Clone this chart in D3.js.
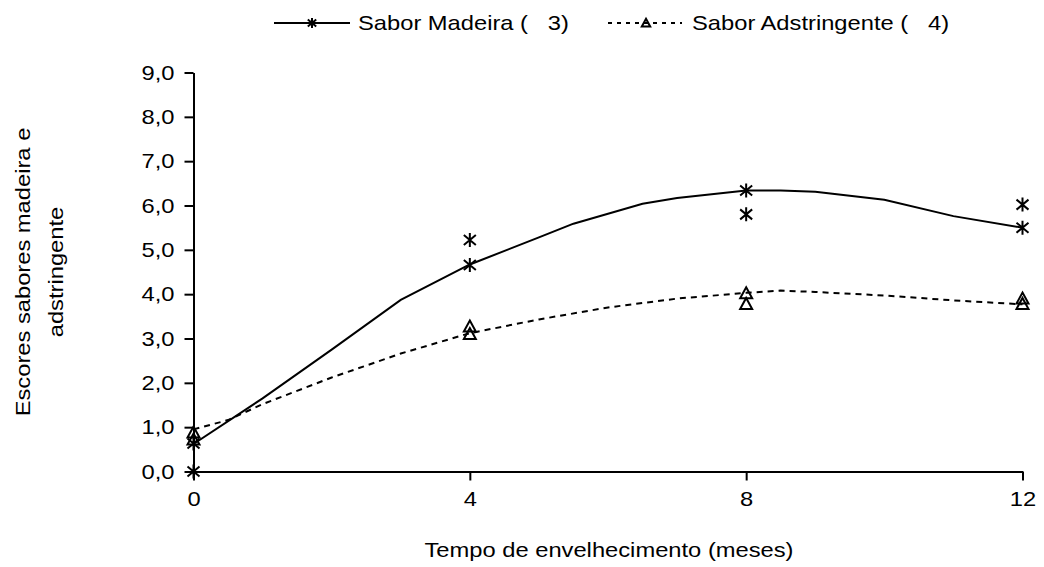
<!DOCTYPE html>
<meta charset="utf-8">
<style>
    body { margin: 0; background: #fff; }
    svg text { font-family: "Liberation Sans", Arial, sans-serif; font-size: 21px; fill: #000; }
    .axis path, .axis line { stroke: #000; stroke-width: 2px; }
</style>
<svg width="1044" height="567"></svg>

<script src="https://d3js.org/d3.v7.min.js"></script>
<script>
    // observed scores at 0, 4, 8 and 12 months (two replicates each)
    var madeiraObs = [[0, 0.0], [0, 0.63], [4, 5.22], [4, 4.66], [8, 6.34], [8, 5.80], [12, 6.02], [12, 5.50]];
    var adstrObs = [[0, 0.88], [0, 0.72], [4, 3.27], [4, 3.10], [8, 4.02], [8, 3.78], [12, 3.90], [12, 3.78]];

    // fitted curves
    var madeiraFit = [[0, 0.62], [1, 1.65], [2, 2.75], [3, 3.87], [4, 4.67], [5, 5.28], [5.5, 5.59], [6.5, 6.04],
        [7, 6.17], [8, 6.34], [8.5, 6.34], [9, 6.31], [10, 6.13], [11, 5.76], [12, 5.50]];
    var adstrFit = [[0, 0.95], [0.5, 1.16], [1, 1.52], [2, 2.12], [3, 2.66], [4, 3.12], [5, 3.43], [6, 3.70],
        [7, 3.90], [8, 4.03], [8.5, 4.08], [9, 4.05], [10, 3.97], [11, 3.86], [12, 3.77]];

    var xTicks = [0, 4, 8, 12];
    var yTicks = [0, 1, 2, 3, 4, 5, 6, 7, 8, 9];
    var legendLabels = ["Sabor Madeira (\u00a0\u00a0 3)", "Sabor Adstringente (\u00a0\u00a0 4)"];

    var svg = d3.select("svg");
    var x = d3.scaleLinear().domain([0, 12]).range([193.5, 1022.5]);
    var y = d3.scaleLinear().domain([0, 9]).range([471.5, 72.5]);
    var comma = d3.formatLocale({decimal: ",", thousands: ".", grouping: [3], currency: ["", ""]}).format(".1f");

    svg.append("g").attr("class", "axis")
        .attr("transform", "translate(0," + y(0) + ")")
        .call(d3.axisBottom(x).tickValues(xTicks).tickSize(9).tickSizeOuter(0).tickPadding(11))
        .call(function(g) { g.selectAll("text").attr("font-size", null).attr("font-family", null); });

    svg.append("g").attr("class", "axis")
        .attr("transform", "translate(" + x(0) + ",0)")
        .call(d3.axisLeft(y).tickValues(yTicks).tickFormat(comma).tickSize(9).tickSizeOuter(0).tickPadding(10))
        .call(function(g) { g.selectAll("text").attr("font-size", null).attr("font-family", null); });

    svg.selectAll(".axis .domain").attr("stroke-width", 2);

    var line = d3.line().x(function(d) { return x(d[0]); }).y(function(d) { return y(d[1]); });

    svg.append("path").datum(madeiraFit)
        .attr("d", line).attr("fill", "none").attr("stroke", "#000").attr("stroke-width", 2);
    svg.append("path").datum(adstrFit)
        .attr("d", line).attr("fill", "none").attr("stroke", "#000").attr("stroke-width", 2)
        .attr("stroke-dasharray", "6,5");

    function star(g, r) {
        r = r || 1;
        g.append("path").attr("d", "M0,-7V7M-6,-5L6,5M-6,5L6,-5")
            .attr("transform", "scale(" + r + ")")
            .attr("stroke", "#000").attr("stroke-width", 2 / r).attr("fill", "none");
    }
    function tri(g, r) {
        r = r || 1;
        g.append("path").attr("d", "M0,-6L6,5H-6Z")
            .attr("transform", "scale(" + r + ")")
            .attr("stroke", "#000").attr("stroke-width", 2 / r).attr("fill", "none");
    }

    svg.selectAll(".star").data(madeiraObs).enter().append("g")
        .attr("transform", function(d) { return "translate(" + x(d[0]) + "," + y(d[1]) + ")"; })
        .call(star);
    svg.selectAll(".tri").data(adstrObs).enter().append("g")
        .attr("transform", function(d) { return "translate(" + x(d[0]) + "," + y(d[1]) + ")"; })
        .call(tri);

    // legend
    var leg = svg.append("g");
    leg.append("line").attr("x1", 274).attr("x2", 350).attr("y1", 23).attr("y2", 23)
        .attr("stroke", "#000").attr("stroke-width", 2);
    leg.append("g").attr("transform", "translate(312,23)").call(star, 0.7);
    leg.append("text").attr("x", 358).attr("y", 30).text(legendLabels[0]);

    leg.append("line").attr("x1", 608).attr("x2", 682).attr("y1", 23).attr("y2", 23)
        .attr("stroke", "#000").attr("stroke-width", 2).attr("stroke-dasharray", "4,5");
    leg.append("g").attr("transform", "translate(646,23)").call(tri, 0.7);
    leg.append("text").attr("x", 692).attr("y", 30).text(legendLabels[1]);

    // axis titles
    svg.append("text").attr("x", 609).attr("y", 557).attr("text-anchor", "middle")
        .text("Tempo de envelhecimento (meses)");
    var yt = svg.append("text").attr("text-anchor", "middle")
        .attr("transform", "translate(0,272) rotate(-90)");
    yt.append("tspan").attr("x", 0).attr("y", 30).text("Escores sabores madeira e");
    yt.append("tspan").attr("x", 0).attr("y", 63).text("adstringente");

    // the original lettering is a bit wider than it is tall
    var sx = 1.13;
    svg.selectAll("text").each(function() {
        var t = d3.select(this);
        var X = +t.attr("x") || 0;
        if (X) t.attr("x", X / sx);
        t.attr("transform", (t.attr("transform") || "") + " scale(" + sx + ",1)");
    });
</script>
